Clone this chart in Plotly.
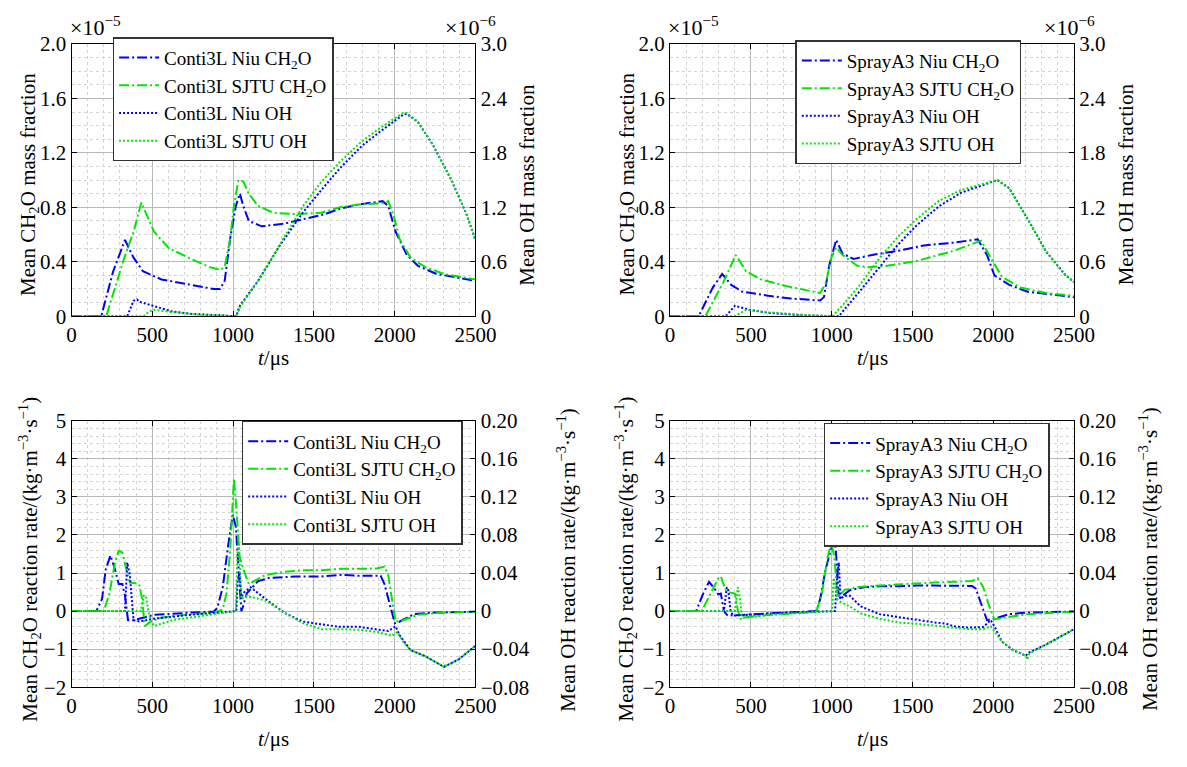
import plotly.graph_objects as go

# ---------------- DATA ----------------
# Top-left (Conti3L) mass fractions; CH2O in 1e-5, OH in 1e-6
tl_t_niu_ch2o = [0, 184, 258, 331, 384, 442, 557, 741, 879, 920, 948, 982, 1017, 1042, 1063, 1097, 1177, 1316, 1431, 1569, 1661, 1776, 1925, 1960, 2006, 2075, 2144, 2259, 2500]
tl_v_niu_ch2o = [0, 0, 0.33, 0.56, 0.43, 0.33, 0.27, 0.23, 0.20, 0.20, 0.26, 0.57, 0.81, 0.90, 0.81, 0.70, 0.66, 0.68, 0.71, 0.75, 0.79, 0.82, 0.845, 0.81, 0.62, 0.45, 0.37, 0.31, 0.26]
tl_t_sjtu_ch2o = [0, 215, 327, 384, 432, 465, 511, 603, 741, 856, 920, 948, 982, 1005, 1033, 1063, 1097, 1155, 1247, 1385, 1546, 1661, 1776, 1937, 1960, 1994, 2029, 2098, 2190, 2305, 2500]
tl_v_sjtu_ch2o = [0, 0, 0.43, 0.62, 0.835, 0.74, 0.62, 0.50, 0.42, 0.36, 0.34, 0.36, 0.57, 0.81, 1.00, 0.99, 0.90, 0.81, 0.76, 0.75, 0.76, 0.80, 0.82, 0.83, 0.845, 0.74, 0.57, 0.43, 0.36, 0.31, 0.27]
tl_t_niu_oh = [0, 345, 384, 405, 419, 511, 626, 741, 971, 1020, 1040, 1155, 1293, 1431, 1546, 1661, 1799, 1914, 2052, 2075, 2144, 2236, 2351, 2443, 2500]
tl_v_niu_oh = [0, 0, 0.17, 0.185, 0.16, 0.11, 0.05, 0.025, 0.007, 0, 0.11, 0.39, 0.79, 1.14, 1.39, 1.63, 1.88, 2.04, 2.22, 2.23, 2.14, 1.89, 1.50, 1.13, 0.84]
tl_t_sjtu_oh = [0, 446, 480, 506, 626, 787, 971, 1020, 1051, 1155, 1293, 1431, 1546, 1661, 1799, 1914, 2052, 2075, 2144, 2236, 2351, 2443, 2500]
tl_v_sjtu_oh = [0, 0, 0.05, 0.07, 0.045, 0.018, 0.004, 0, 0.125, 0.39, 0.80, 1.21, 1.48, 1.70, 1.93, 2.08, 2.24, 2.24, 2.14, 1.89, 1.50, 1.13, 0.84]

# Top-right (SprayA3) mass fractions
tr_t_niu_ch2o = [0, 177, 264, 322, 378, 447, 608, 745, 929, 952, 986, 1028, 1067, 1135, 1250, 1411, 1571, 1755, 1904, 1961, 2007, 2099, 2213, 2500]
tr_v_niu_ch2o = [0, 0, 0.21, 0.31, 0.23, 0.18, 0.15, 0.13, 0.115, 0.14, 0.38, 0.56, 0.46, 0.42, 0.45, 0.48, 0.52, 0.54, 0.565, 0.45, 0.30, 0.23, 0.18, 0.14]
tr_t_sjtu_ch2o = [0, 218, 330, 406, 470, 562, 722, 929, 963, 998, 1028, 1067, 1158, 1227, 1342, 1525, 1755, 1925, 1984, 2053, 2167, 2328, 2500]
tr_v_sjtu_ch2o = [0, 0, 0.25, 0.45, 0.33, 0.27, 0.22, 0.17, 0.24, 0.43, 0.505, 0.45, 0.37, 0.36, 0.37, 0.405, 0.48, 0.555, 0.43, 0.29, 0.21, 0.17, 0.15]
tr_t_niu_oh = [0, 344, 401, 493, 608, 837, 1021, 1044, 1181, 1296, 1411, 1525, 1663, 1800, 1938, 2025, 2099, 2213, 2328, 2443, 2500]
tr_v_niu_oh = [0, 0, 0.114, 0.07, 0.036, 0.007, 0, 0, 0.29, 0.54, 0.79, 1.00, 1.21, 1.36, 1.45, 1.50, 1.41, 1.07, 0.71, 0.46, 0.375]
tr_t_sjtu_oh = [0, 401, 470, 608, 837, 1005, 1112, 1181, 1296, 1411, 1525, 1663, 1800, 1938, 2025, 2099, 2213, 2328, 2443, 2500]
tr_v_sjtu_oh = [0, 0, 0.07, 0.043, 0.014, 0, 0.21, 0.36, 0.64, 0.875, 1.07, 1.27, 1.39, 1.46, 1.50, 1.41, 1.07, 0.71, 0.46, 0.375]

# Bottom-left (Conti3L) reaction rates; CH2O in kg/(m3 s), OH in kg/(m3 s)
bl_t_niu_ch2o = [0, 154, 189, 212, 241, 269, 292, 315, 331, 350, 373, 419, 511, 741, 879, 902, 936, 970, 998, 1017, 1035, 1051, 1060, 1085, 1155, 1223, 1384, 1545, 1660, 1775, 1913, 1937, 1971, 2001, 2029, 2121, 2236, 2500]
bl_v_niu_ch2o = [0, 0, 0.32, 1.1, 1.46, 1.1, 0.71, 0.71, 0.40, -0.24, -0.25, -0.2, -0.1, -0.04, -0.015, 0.08, 0.63, 1.74, 2.53, 2.22, 1.11, 0.0, 0.1, 0.47, 0.79, 0.87, 0.91, 0.91, 0.95, 0.93, 0.93, 0.71, 0.16, -0.32, -0.28, -0.08, -0.04, -0.016]
bl_t_sjtu_ch2o = [0, 200, 235, 269, 292, 315, 338, 361, 396, 419, 437, 453, 488, 557, 741, 879, 936, 959, 982, 1005, 1021, 1040, 1063, 1097, 1131, 1201, 1316, 1431, 1546, 1661, 1776, 1891, 1937, 1960, 1983, 2006, 2052, 2144, 2259, 2500]
bl_v_sjtu_ch2o = [0, 0, 0.47, 1.27, 1.58, 1.54, 1.11, 0.75, 0.73, 0.70, 0.32, -0.40, -0.28, -0.17, -0.08, -0.04, 0.04, 0.47, 1.58, 3.48, 2.69, 1.43, 1.11, 0.71, 0.79, 0.95, 1.03, 1.07, 1.07, 1.11, 1.11, 1.12, 1.17, 0.95, 0.32, -0.28, -0.24, -0.1, -0.05, -0.016]
bl_t_niu_oh = [0, 331, 345, 361, 373, 384, 419, 511, 741, 971, 1020, 1028, 1040, 1051, 1063, 1109, 1201, 1316, 1431, 1546, 1661, 1776, 1891, 1960, 2006, 2029, 2098, 2190, 2305, 2397, 2500]
bl_v_niu_oh = [0, 0, 0.051, 0.038, 0.0127, -0.0095, -0.011, -0.008, -0.0038, -0.0006, 0, 0.032, 0.041, 0.013, 0.019, 0.025, 0.0127, -0.0016, -0.011, -0.014, -0.0165, -0.0165, -0.019, -0.021, -0.016, -0.025, -0.041, -0.0475, -0.0586, -0.0507, -0.0364]
bl_t_sjtu_oh = [0, 430, 446, 460, 476, 488, 511, 626, 856, 1017, 1028, 1035, 1051, 1085, 1201, 1316, 1431, 1546, 1661, 1776, 1891, 1983, 2017, 2052, 2098, 2190, 2305, 2397, 2500]
bl_v_sjtu_oh = [0, 0, 0.016, 0.016, 0, -0.0095, -0.0158, -0.0095, -0.0038, 0, 0.063, 0.072, 0.0127, 0.016, 0.011, -0.0016, -0.0127, -0.019, -0.019, -0.0196, -0.022, -0.026, -0.022, -0.032, -0.041, -0.0475, -0.0586, -0.0507, -0.0364]

# Bottom-right (SprayA3) reaction rates
br_t_niu_ch2o = [0, 161, 206, 241, 275, 298, 314, 333, 356, 424, 608, 837, 906, 929, 963, 998, 1021, 1034, 1044, 1067, 1112, 1204, 1296, 1411, 1525, 1640, 1755, 1869, 1892, 1927, 1961, 2007, 2099, 2213, 2500]
br_v_niu_ch2o = [0, 0, 0.47, 0.77, 0.59, 0.44, 0.46, 0.0, -0.12, -0.1, -0.06, -0.016, 0, 0.32, 1.11, 1.66, 1.82, 1.11, 0.32, 0.40, 0.55, 0.63, 0.65, 0.65, 0.67, 0.67, 0.66, 0.66, 0.59, 0.16, -0.24, -0.2, -0.08, -0.04, -0.01]
br_t_sjtu_ch2o = [0, 195, 252, 298, 314, 344, 367, 401, 420, 436, 470, 608, 837, 906, 940, 975, 998, 1016, 1032, 1048, 1078, 1158, 1296, 1411, 1525, 1640, 1755, 1869, 1904, 1938, 1972, 2007, 2076, 2213, 2500]
br_v_sjtu_ch2o = [0, 0, 0.47, 0.86, 0.91, 0.55, 0.49, 0.46, 0.0, -0.2, -0.16, -0.1, -0.04, 0, 0.47, 1.43, 1.78, 1.43, 0.63, 0.40, 0.55, 0.63, 0.67, 0.70, 0.73, 0.75, 0.77, 0.79, 0.86, 0.63, 0.16, -0.22, -0.17, -0.08, -0.016]
br_t_niu_oh = [0, 333, 351, 360, 374, 390, 493, 722, 1021, 1034, 1044, 1055, 1078, 1112, 1181, 1296, 1411, 1525, 1640, 1709, 1755, 1846, 1938, 1984, 2007, 2053, 2122, 2202, 2213, 2328, 2500]
br_v_niu_oh = [0, 0, 0.025, 0.022, 0, -0.0048, -0.0038, -0.0016, 0, 0.038, 0.051, 0.0127, 0.016, 0.016, 0.0048, -0.0032, -0.0063, -0.0095, -0.012, -0.0133, -0.016, -0.0174, -0.0168, -0.0095, -0.016, -0.032, -0.041, -0.047, -0.0443, -0.035, -0.019]
br_t_sjtu_oh = [0, 401, 420, 433, 443, 470, 608, 837, 1003, 1012, 1021, 1034, 1055, 1112, 1181, 1296, 1411, 1525, 1640, 1755, 1846, 1938, 1984, 2053, 2122, 2202, 2209, 2225, 2328, 2500]
br_v_sjtu_oh = [0, 0, 0.025, 0.0127, -0.0063, -0.007, -0.0038, -0.0016, 0, 0.035, 0.0285, 0.0127, 0.0095, 0.0048, -0.0025, -0.008, -0.012, -0.0133, -0.015, -0.0174, -0.019, -0.019, -0.016, -0.032, -0.041, -0.047, -0.051, -0.0443, -0.035, -0.019]

# Tick labels
x_ticks = [0, 500, 1000, 1500, 2000, 2500]
top_left_ticks = [0, 0.4, 0.8, 1.2, 1.6, 2.0]
top_left_text = ["0", "0.4", "0.8", "1.2", "1.6", "2.0"]
top_right_ticks = [0, 0.6, 1.2, 1.8, 2.4, 3.0]
top_right_text = ["0", "0.6", "1.2", "1.8", "2.4", "3.0"]
bot_left_ticks = [-2, -1, 0, 1, 2, 3, 4, 5]
bot_left_text = ["\u22122", "\u22121", "0", "1", "2", "3", "4", "5"]
bot_right_ticks = [-0.08, -0.04, 0, 0.04, 0.08, 0.12, 0.16, 0.20]
bot_right_text = ["\u22120.08", "\u22120.04", "0", "0.04", "0.08", "0.12", "0.16", "0.20"]

# ---------------- FIGURE ----------------
W, H = 1187, 767
FONT = "Liberation Serif, Times New Roman, serif"
BLUE = "#0000ff"
GREEN = "#00e600"
DASHDOT = "10px,3px,2px,3px"
DOT = "2px,2px"


def px(x):
    return x / W


def py(y):
    return 1 - y / H


fig = go.Figure()

panels = [
    ("Conti3L", "x", "y", "y2", "legend",
     (tl_t_niu_ch2o, tl_v_niu_ch2o), (tl_t_sjtu_ch2o, tl_v_sjtu_ch2o),
     (tl_t_niu_oh, tl_v_niu_oh), (tl_t_sjtu_oh, tl_v_sjtu_oh)),
    ("SprayA3", "x2", "y3", "y4", "legend2",
     (tr_t_niu_ch2o, tr_v_niu_ch2o), (tr_t_sjtu_ch2o, tr_v_sjtu_ch2o),
     (tr_t_niu_oh, tr_v_niu_oh), (tr_t_sjtu_oh, tr_v_sjtu_oh)),
    ("Conti3L", "x3", "y5", "y6", "legend3",
     (bl_t_niu_ch2o, bl_v_niu_ch2o), (bl_t_sjtu_ch2o, bl_v_sjtu_ch2o),
     (bl_t_niu_oh, bl_v_niu_oh), (bl_t_sjtu_oh, bl_v_sjtu_oh)),
    ("SprayA3", "x4", "y7", "y8", "legend4",
     (br_t_niu_ch2o, br_v_niu_ch2o), (br_t_sjtu_ch2o, br_v_sjtu_ch2o),
     (br_t_niu_oh, br_v_niu_oh), (br_t_sjtu_oh, br_v_sjtu_oh)),
]

for name, xa, yl, yr, lg, nc, sc, no, so in panels:
    specs = [
        (nc, yl, BLUE, DASHDOT, f"{name} Niu CH<sub>2</sub>O"),
        (sc, yl, GREEN, DASHDOT, f"{name} SJTU CH<sub>2</sub>O"),
        (no, yr, BLUE, DOT, f"{name} Niu OH"),
        (so, yr, GREEN, DOT, f"{name} SJTU OH"),
    ]
    for (t, v), ya, col, dash, label in specs:
        fig.add_trace(go.Scatter(
            x=t, y=v, xaxis=xa, yaxis=ya, mode="lines", name=label,
            line=dict(color=col, width=2, dash=dash), legend=lg,
        ))

grid_major = "#b8b8b8"
grid_minor = "#d4d4d4"
tickfont = dict(family=FONT, size=21, color="black")

xdom_l = [px(68), px(481)]
xdom_r = [px(680), px(1093)]
ydom_t = [py(314), py(33)]
ydom_b = [py(697), py(422)]


def xaxis(dom, anchor):
    return dict(
        domain=dom, anchor=anchor, range=[0, 2500], tickmode="array",
        tickvals=x_ticks, ticktext=[str(v) for v in x_ticks],
        ticks="inside", ticklen=5, tickcolor="black", mirror="ticks",
        showline=True, linecolor="black", linewidth=1.2,
        showgrid=True, gridcolor=grid_major, gridwidth=1,
        minor=dict(tickmode="linear", tick0=0, dtick=100, showgrid=True,
                   gridcolor=grid_minor, griddash="dot", gridwidth=1),
        tickfont=tickfont, zeroline=False,
    )


def yleft(dom, anchor, rng, vals, text, mdt):
    return dict(
        domain=dom, anchor=anchor, range=rng, tickmode="array",
        tickvals=vals, ticktext=text, ticks="inside", ticklen=5,
        tickcolor="black", showline=True, linecolor="black", linewidth=1.2,
        showgrid=True, gridcolor=grid_major, gridwidth=1,
        minor=dict(tickmode="linear", tick0=0, dtick=mdt, showgrid=True,
                   gridcolor=grid_minor, griddash="dot", gridwidth=1),
        tickfont=tickfont, zeroline=False,
    )


def yright(overlay, anchor, rng, vals, text):
    return dict(
        overlaying=overlay, anchor=anchor, side="right", range=rng,
        tickmode="array", tickvals=vals, ticktext=text, ticks="inside",
        ticklen=5, tickcolor="black", showline=True, linecolor="black",
        linewidth=1.2, showgrid=False, tickfont=tickfont, zeroline=False,
    )


def legend(x, y):
    return dict(
        x=px(x), y=py(y), xanchor="left", yanchor="top",
        bgcolor="white", bordercolor="#333333", borderwidth=1.5,
        font=dict(family=FONT, size=19, color="black"),
        tracegroupgap=0, itemwidth=40,
    )


fig.update_layout(
    width=W, height=H, margin=dict(l=0, r=0, t=0, b=0),
    paper_bgcolor="white", plot_bgcolor="white",
    font=dict(family=FONT, size=21, color="black"),
    xaxis=xaxis(xdom_l, "y"),
    xaxis2=xaxis(xdom_r, "y3"),
    xaxis3=xaxis(xdom_l, "y5"),
    xaxis4=xaxis(xdom_r, "y7"),
    yaxis=yleft(ydom_t, "x", [0, 2.0], top_left_ticks, top_left_text, 0.1),
    yaxis2=yright("y", "x", [0, 3.0], top_right_ticks, top_right_text),
    yaxis3=yleft(ydom_t, "x2", [0, 2.0], top_left_ticks, top_left_text, 0.1),
    yaxis4=yright("y3", "x2", [0, 3.0], top_right_ticks, top_right_text),
    yaxis5=yleft(ydom_b, "x3", [-2, 5], bot_left_ticks, bot_left_text, 0.2),
    yaxis6=yright("y5", "x3", [-0.08, 0.20], bot_right_ticks, bot_right_text),
    yaxis7=yleft(ydom_b, "x4", [-2, 5], bot_left_ticks, bot_left_text, 0.2),
    yaxis8=yright("y7", "x4", [-0.08, 0.20], bot_right_ticks, bot_right_text),
    legend=legend(110, 26),
    legend2=legend(808, 29),
    legend3=legend(242, 422),
    legend4=legend(837, 424),
)

ann = []


def add_text(x, y, text, angle=0, xanchor="center", yanchor="middle", size=21):
    ann.append(dict(x=px(x), y=py(y), xref="paper", yref="paper", text=text,
                    showarrow=False, textangle=angle,
                    font=dict(family=FONT, size=size, color="black"),
                    xanchor=xanchor, yanchor=yanchor))


# exponent labels
add_text(64, 14, "\u00d710<sup>\u22125</sup>", xanchor="left", size=22)
add_text(448, 14, "\u00d710<sup>\u22126</sup>", xanchor="left", size=22)
add_text(676, 14, "\u00d710<sup>\u22125</sup>", xanchor="left", size=22)
add_text(1060, 14, "\u00d710<sup>\u22126</sup>", xanchor="left", size=22)

# y titles
add_text(25, 178, "Mean CH<sub>2</sub>O mass fraction", -90)
add_text(534, 178, "Mean OH mass fraction", -90)
add_text(637, 178, "Mean CH<sub>2</sub>O mass fraction", -90)
add_text(1147, 178, "Mean OH mass fraction", -90)
add_text(25, 565, "Mean CH<sub>2</sub>O reaction rate/(kg\u00b7m<sup>\u22123</sup>\u00b7s<sup>\u22121</sup>)", -90)
add_text(574, 565, "Mean OH reaction rate/(kg\u00b7m<sup>\u22123</sup>\u00b7s<sup>\u22121</sup>)", -90)
add_text(634, 565, "Mean CH<sub>2</sub>O reaction rate/(kg\u00b7m<sup>\u22123</sup>\u00b7s<sup>\u22121</sup>)", -90)
add_text(1185, 565, "Mean OH reaction rate/(kg\u00b7m<sup>\u22123</sup>\u00b7s<sup>\u22121</sup>)", -90, xanchor="right")

# x titles
add_text(275, 357, "<i>t</i>/\u03bcs")
add_text(887, 357, "<i>t</i>/\u03bcs")
add_text(275, 750, "<i>t</i>/\u03bcs")
add_text(887, 750, "<i>t</i>/\u03bcs")

fig.update_layout(annotations=ann)

fig.write_html("out.html")
